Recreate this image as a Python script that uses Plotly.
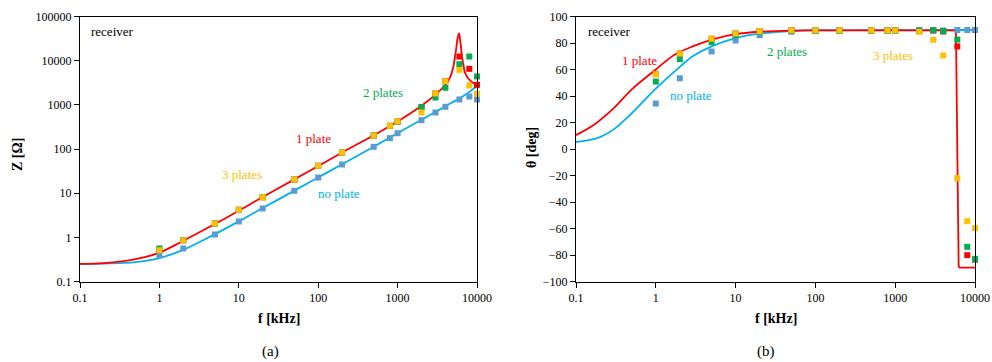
import plotly.graph_objects as go

# ---------------- data ----------------
freq_pts = [1, 2, 5, 10, 20, 50, 100, 200, 500, 800, 1000, 2000, 3000, 4000, 6000, 8000, 10000]

z_noplate = [0.40, 0.56, 1.16, 2.29, 4.5, 11.3, 22.6, 44.6, 112, 176, 228, 450, 671, 902, 1321, 1545, 1321]
z_1plate = [0.52, 0.86, 2.06, 4.2, 8.1, 20.4, 41.6, 83, 202, 335, 420, 885, 1806, 3434, 12420, 6530, 2840]
z_2plates = [0.56, 0.86, 2.06, 4.2, 8.1, 20.4, 41.6, 83, 202, 335, 410, 885, 1466, 2430, 8330, 12420, 4380]
z_3plates = [0.51, 0.86, 2.06, 4.2, 8.1, 20.4, 41.6, 83, 202, 335, 420, 671, 1806, 3434, 6200, 2740, 1776]

th_noplate = [34.3, 53.4, 73.6, 81.9, 85.9, 88.5, 89.0, 89.3, 89.5, 89.5, 89.5, 89.5, 89.5, 89.5, 89.8, 89.8, 89.8]
th_1plate = [56.5, 72.1, 83.2, 87.2, 88.9, 89.5, 89.5, 89.5, 89.5, 89.5, 89.5, 89.3, 89.5, 88.7, 77.4, -80.1, -83.5]
th_2plates = [50.9, 67.8, 80.6, 86.0, 88.5, 89.3, 89.3, 89.3, 89.3, 89.3, 89.3, 89.5, 89.7, 88.9, 82.6, -73.8, -82.9]
th_3plates = [56.5, 72.1, 83.2, 87.2, 88.9, 89.5, 89.5, 89.5, 89.5, 89.5, 89.5, 88.4, 82.4, 70.6, -22.0, -54.5, -59.8]

# model curves: smooth part and sharp part separately
zline_1plate_f = [0.1, 0.2, 0.5, 1, 2, 5, 10, 20, 50, 100, 200, 500, 1000, 2000, 3000, 4000, 4500]
zline_1plate = [0.25, 0.26, 0.32, 0.45, 0.84, 2.0, 4.0, 8.2, 20.5, 41, 83, 205, 420, 950, 1700, 2850, 3900]
zpeak_1plate_f = [4500, 4800, 5100, 5300, 5500, 5650, 5800, 5900, 6000, 6150, 6300, 6450, 6700, 7000,
                  7500, 8000, 9000, 10000]
zpeak_1plate = [3900, 5200, 8000, 12000, 20000, 30000, 39000, 42000, 39000, 30000, 20000, 12500, 8000,
                5500, 4300, 3700, 3100, 2850]

zline_noplate_f = [0.1, 0.2, 0.5, 1, 2, 5, 10, 20, 50, 100, 200, 500, 1000, 2000, 3000, 4000, 6000,
                   8000, 10000]
zline_noplate = [0.25, 0.255, 0.275, 0.34, 0.52, 1.18, 2.3, 4.6, 11.4, 22.7, 45, 113, 228, 460, 690, 930,
                 1400, 1950, 2700]

thline_1plate_f = [0.1, 0.17, 0.3, 0.5, 1, 1.7, 3, 5.3, 10, 20, 50, 100, 1000, 5000, 5700]
thline_1plate = [10.5, 18.5, 31, 45, 60, 71, 77.8, 83, 86.7, 88.5, 89.4, 89.5, 89.5, 89.5, 89.3]
thdrop_1plate_f = [5700, 5780, 6000, 6240, 6400, 10000]
thdrop_1plate = [89.3, 87, 0, -88.5, -89.5, -89.5]

thline_noplate_f = [0.1, 0.15, 0.2, 0.3, 0.5, 1, 2, 3, 5, 10, 20, 50, 100, 1000, 10000]
thline_noplate = [5.2, 6.8, 9.0, 15, 27, 45.5, 62, 70.5, 77.5, 83.7, 87.0, 89.0, 89.5, 89.7, 89.8]

x_ticks = [0.1, 1, 10, 100, 1000, 10000]
x_ticktext = ["0.1", "1", "10", "100", "1000", "10000"]
z_ticks = [0.1, 1, 10, 100, 1000, 10000, 100000]
z_ticktext = ["0.1", "1", "10", "100", "1000", "10000", "100000"]
th_ticks = list(range(-100, 101, 20))

# ---------------- styling ----------------
RED = "#FF0000"
CYAN = "#00B0F0"
BLUE_PT = "#5B9BD5"
GREEN = "#00B050"
ORANGE = "#FFC000"
FONT = "Liberation Serif, Times New Roman, serif"
W, H = 992, 362

fig = go.Figure()

def add_line(xa, ya, fx, fy, col, shape):
    fig.add_trace(go.Scatter(x=fx, y=fy, mode="lines",
                             line=dict(color=col, width=1.8, shape=shape, smoothing=1.0),
                             xaxis=xa, yaxis=ya, showlegend=False, hoverinfo="skip"))

def add_pts(xa, ya, vals, col):
    fig.add_trace(go.Scatter(x=freq_pts, y=vals, mode="markers",
                             marker=dict(symbol="square", size=6, color=col, line=dict(width=0)),
                             xaxis=xa, yaxis=ya, showlegend=False, cliponaxis=False))

# panel (a)
add_line("x", "y", zline_noplate_f, zline_noplate, CYAN, "spline")
add_line("x", "y", zline_1plate_f, zline_1plate, RED, "spline")
add_line("x", "y", zpeak_1plate_f, zpeak_1plate, RED, "linear")
for vals, col in [(z_noplate, BLUE_PT), (z_1plate, RED), (z_2plates, GREEN), (z_3plates, ORANGE)]:
    add_pts("x", "y", vals, col)

# panel (b)
add_line("x2", "y2", thline_noplate_f, thline_noplate, CYAN, "spline")
add_line("x2", "y2", thline_1plate_f, thline_1plate, RED, "spline")
add_line("x2", "y2", thdrop_1plate_f, thdrop_1plate, RED, "linear")
for vals, col in [(th_noplate, BLUE_PT), (th_1plate, RED), (th_2plates, GREEN), (th_3plates, ORANGE)]:
    add_pts("x2", "y2", vals, col)

axis_common = dict(showgrid=False, zeroline=False, showline=True, linecolor="black", linewidth=1,
                   mirror=True, ticks="outside", ticklen=5, tickcolor="black", automargin=False,
                   tickfont=dict(family=FONT, size=12, color="black"))

ytop = 1 - 16.5 / H
ybot = 1 - 281.5 / H

fig.update_layout(
    width=W, height=H,
    margin=dict(l=0, r=0, t=0, b=0, pad=0, autoexpand=False),
    paper_bgcolor="white", plot_bgcolor="white",
    font=dict(family=FONT),
    xaxis=dict(type="log", range=[-1, 4], domain=[80 / W, 477 / W], anchor="y",
               tickvals=x_ticks, ticktext=x_ticktext, **axis_common),
    yaxis=dict(type="log", range=[-1, 5], domain=[ybot, ytop], anchor="x",
               tickvals=z_ticks, ticktext=z_ticktext, **axis_common),
    xaxis2=dict(type="log", range=[-1, 4], domain=[576 / W, 975 / W], anchor="y2",
                tickvals=x_ticks, ticktext=x_ticktext, **axis_common),
    yaxis2=dict(range=[-100, 100], domain=[ybot, ytop], anchor="x2",
                tickvals=th_ticks, **axis_common),
)

def txt(text, px, py, color="black", size=13, bold=False, angle=0):
    fig.add_annotation(text=("<b>%s</b>" % text) if bold else text,
                       x=px / W, y=1 - py / H, xref="paper", yref="paper",
                       showarrow=False, xanchor="center", yanchor="middle", textangle=angle,
                       font=dict(family=FONT, size=size, color=color))

# panel (a)
txt("receiver", 112, 31)
txt("2 plates", 383, 93, GREEN)
txt("1 plate", 313, 138, RED)
txt("3 plates", 242, 175, ORANGE)
txt("no plate", 339, 193, CYAN)
# panel (b)
txt("receiver", 609, 31)
txt("1 plate", 639, 60, RED)
txt("no plate", 691, 95, CYAN)
txt("2 plates", 787, 52, GREEN)
txt("3 plates", 893, 55, ORANGE)

# axis titles
txt("Z [Ω]", 17, 155, size=14, bold=True, angle=-90)
txt("θ [deg]", 531, 148, size=14, bold=True, angle=-90)
txt("f [kHz]", 279, 318, size=14, bold=True)
txt("f [kHz]", 776, 318, size=14, bold=True)
txt("(a)", 270, 351, size=15)
txt("(b)", 766, 351, size=15)

fig.write_html("out.html", config={"displayModeBar": False},
               post_script="document.body.style.margin='0';document.body.style.overflow='hidden';")
